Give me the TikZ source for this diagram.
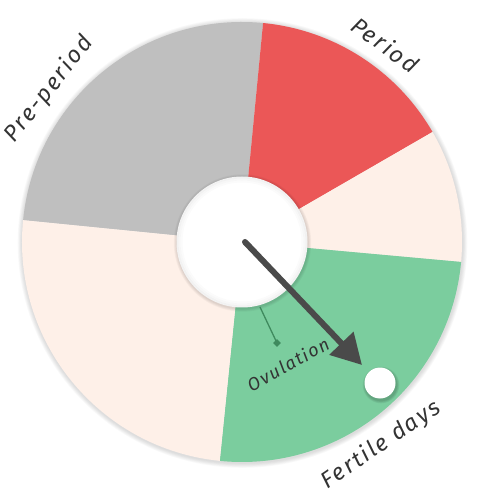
\documentclass[tikz,border=0pt]{standalone}
\usepackage{fontspec}
\setmainfont{Fira Sans}
\usetikzlibrary{arrows.meta,shapes.geometric}
\definecolor{grayseg}{HTML}{BFBFBF}
\definecolor{redseg}{HTML}{EB5757}
\definecolor{peachseg}{HTML}{FEF0E8}
\definecolor{greenseg}{HTML}{7BCD9E}
\definecolor{arrowc}{HTML}{4A4A4A}
\definecolor{ovuc}{HTML}{3F8A5E}
\definecolor{textc}{HTML}{333333}
\tikzset{
  seglabel/.style={font=\itshape\fontsize{23}{23}\selectfont\addfontfeatures{LetterSpace=9}, text=textc, inner sep=0pt},
  ovulabel/.style={font=\itshape\fontsize{18}{18}\selectfont\addfontfeatures{LetterSpace=8}, text=textc, inner sep=0pt},
}
\begin{document}
\begin{tikzpicture}[x=1pt,y=1pt]
\useasboundingbox (-242,-252) rectangle (240,242);
% outer soft shadow
\foreach \i in {1,...,6}{
  \fill[black, opacity=0.025] (0.5,-1) circle (220+\i*0.8);
}
% wedges
\def\R{220}
\fill[grayseg]  (0,0) -- (84.5:\R) arc[start angle=84.5, end angle=174.3, radius=\R] -- cycle;
\fill[redseg]   (0,0) -- (30:\R) arc[start angle=30, end angle=84.5, radius=\R] -- cycle;
\fill[peachseg] (0,0) -- (-5.2:\R) arc[start angle=-5.2, end angle=30, radius=\R] -- cycle;
\fill[greenseg] (0,0) -- (-95.8:\R) arc[start angle=-95.8, end angle=-5.2, radius=\R] -- cycle;
\fill[peachseg] (0,0) -- (174.3:\R) arc[start angle=174.3, end angle=264.2, radius=\R] -- cycle;
% inner circle with soft shadow
\foreach \i in {1,...,4}{
  \fill[black, opacity=0.03] (0.5,-1) circle (65.5+\i*0.8);
}
\fill[white] (0,0) circle (65.5);
\draw[black, opacity=0.05, line width=2pt] (0,0) circle (64.5);
\draw[black, opacity=0.03, line width=2pt] (0,0) circle (62.5);
\draw[black, opacity=0.015, line width=2pt] (0,0) circle (60.5);
% ovulation marker
\coordinate (ovs) at (18,-65);
\node[diamond, fill=ovuc, minimum size=8pt, inner sep=0pt] (ovd) at (35,-101) {};
\draw[ovuc, line width=1.3pt] (ovs) -- (ovd.center);
\node[ovulabel, rotate=29] (ovl) at (46,-122) {Ovulation};
% arrow
\coordinate (ac) at (3,0);
\coordinate (tip) at (120,-123);
\draw[arrowc, line width=6pt, line cap=round, -{Triangle[length=30pt,width=32pt,line cap=butt]}] (ac) -- (tip);
% white knob
\foreach \i in {1,...,4}{
  \fill[black, opacity=0.05] (139,-143) circle (15.5+\i*0.7);
}
\node[circle, fill=white, minimum size=31pt, inner sep=0pt] (knob) at (138,-141) {};
% labels
\node[seglabel, rotate=-36] (lper) at (54:244) {Period};
\node[seglabel, rotate=51.6] (lpre) at (141.6:246) {Pre-period};
\node[seglabel, rotate=34.4] (lfer) at (-55.6:246) {Fertile days};
\end{tikzpicture}
\end{document}
